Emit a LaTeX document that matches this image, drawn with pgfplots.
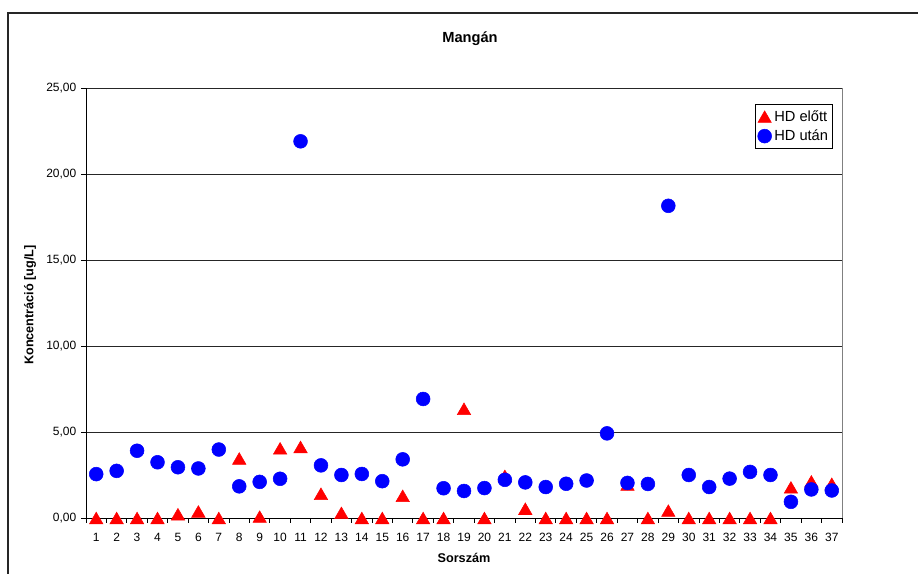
\documentclass[border=0pt]{standalone}
\usepackage{pgfplots}
\pgfplotsset{compat=1.18}
\usepackage{fontspec}
\setmainfont{Liberation Sans}

\begin{document}
\begin{tikzpicture}[x=0.75pt,y=0.75pt]
\useasboundingbox (0,0) rectangle (918,574);
% outer chart frame (cropped on the right and bottom)
\draw[line width=1.1pt, black!85] (8,-10) -- (8,561) -- (930,561);

\node[font=\fontsize{11}{13}\selectfont\bfseries] at (470,535) {Mangán};
\node[font=\fontsize{9.5}{11}\selectfont\bfseries, rotate=90] at (30,269) {Koncentráció [ug/L]};
\node[font=\fontsize{9.5}{11}\selectfont\bfseries] at (464,16.5) {Sorszám};

\begin{axis}[
    at={(64.5pt,42pt)}, anchor=south west,
    scale only axis, width=567pt, height=322.5pt,
    xmin=0.5, xmax=37.5, ymin=0, ymax=25,
    axis x line*=bottom, axis y line*=left,
    axis line style={-, black, line width=0.7pt},
    xtick={1,...,37}, major x tick style={draw=none},
    minor xtick={0.5,1.5,...,37.5},
    ytick={0,5,10,15,20,25},
    tick align=outside,
    major tick length=3.75pt, minor tick length=3.75pt,
    tick style={black, line width=0.7pt},
    ymajorgrids, grid style={black!85, line width=0.6pt},
    ticklabel style={font=\fontsize{9}{10}\selectfont},
    xticklabel style={yshift=-4pt},
    /pgf/number format/assume math mode=true,
    yticklabel style={/pgf/number format/.cd, fixed, fixed zerofill, precision=2, use comma},
    clip=false,
    legend style={at={(1,1)}, anchor=north east, xshift=-6.75pt, yshift=-12pt,
        draw=black, fill=white, font=\fontsize{11}{12}\selectfont,
        inner xsep=1.5pt, inner ysep=2.5pt, row sep=1pt},
    legend cell align=left,
    legend image code/.code={\draw[#1] plot[only marks] coordinates {(0pt,0pt)};},
]
\draw[gray, line width=0.7pt] (rel axis cs:1,0) -- (rel axis cs:1,1);

\addplot[only marks, mark=triangle*, mark size=5.8pt, color=red, fill=red,
    mark options={yshift=-1.45pt}]
coordinates {
(1,0)(2,0)(3,0)(4,0)(5,0.22)(6,0.38)(7,0)(8,3.46)(9,0.08)(10,4.05)
(11,4.13)(12,1.41)(13,0.30)(14,0)(15,0)(16,1.29)(17,0)(18,0)(19,6.35)(20,0)
(21,2.45)(22,0.54)(23,0)(24,0)(25,0)(26,0)(27,1.95)(28,0)(29,0.43)(30,0)
(31,0)(32,0)(33,0)(34,0)(35,1.78)(36,2.13)(37,1.99)
};
\addplot[only marks, mark=*, mark size=5.2pt, color=blue, fill=blue]
coordinates {
(1,2.55)(2,2.74)(3,3.91)(4,3.24)(5,2.95)(6,2.88)(7,3.98)(8,1.84)(9,2.10)(10,2.28)
(11,21.9)(12,3.06)(13,2.50)(14,2.56)(15,2.14)(16,3.41)(17,6.92)(18,1.73)(19,1.57)(20,1.74)
(21,2.22)(22,2.07)(23,1.80)(24,1.99)(25,2.18)(26,4.92)(27,2.04)(28,1.98)(29,18.15)(30,2.50)
(31,1.80)(32,2.29)(33,2.68)(34,2.50)(35,0.94)(36,1.66)(37,1.60)
};
\legend{HD előtt, HD után}
\end{axis}
\end{tikzpicture}
\end{document}
